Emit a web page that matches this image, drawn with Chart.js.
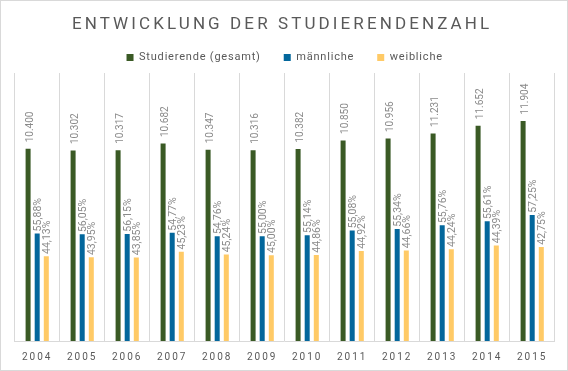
<!DOCTYPE html>
<html>
<head>
<meta charset="utf-8">
<script src="https://cdn.jsdelivr.net/npm/chart.js@4"></script>
<style>
html,body{margin:0;padding:0;background:#fff;}
canvas{display:block;}
</style>
</head>
<body>
<canvas id="c" width="568" height="371"></canvas>
<script>
// ---- data ----
const categories = ['2004','2005','2006','2007','2008','2009','2010','2011','2012','2013','2014','2015'];
const totalStudents = [10400,10302,10317,10682,10347,10316,10382,10850,10956,11231,11652,11904];
const maleStudents = [5812,5774,5793,5851,5666,5674,5725,5976,6063,6262,6480,6815];
const femaleStudents = [4590,4528,4524,4831,4681,4642,4657,4874,4893,4969,5172,5089];
const malePct = [55.88,56.05,56.15,54.77,54.76,55.00,55.14,55.08,55.34,55.76,55.61,57.25];
const femalePct = [44.13,43.95,43.85,45.23,45.24,45.00,44.86,44.92,44.66,44.24,44.39,42.75];
const seriesNames = ['Studierende (gesamt)','männliche','weibliche'];
const chartTitle = 'ENTWICKLUNG DER STUDIERENDENZAHL';
const yMax = 14500;

// ---- formatting ----
const fmtInt = v => String(v).replace(/\B(?=(\d{3})+(?!\d))/g, '.');
const fmtPct = v => v.toFixed(2).replace('.', ',') + '%';
const labelTexts = [totalStudents.map(fmtInt), malePct.map(fmtPct), femalePct.map(fmtPct)];

// ---- styles ----
const FONT = "Roboto, 'Liberation Sans', sans-serif";
const colors = ['#3a5a25', '#03679c', '#ffca66'];
const labelStyle = [
  {dx: 2.0, gap: 6.5, size: 10},
  {dx: 1.4, gap: 2.2, size: 10.5},
  {dx: 1.4, gap: 2.2, size: 10.5}
];

function wrapSpacing(obj, methods, spacing, dx) {
  methods.forEach(m => {
    const orig = obj[m].bind(obj);
    obj[m] = function(...args) {
      const ctx = obj.ctx;
      ctx.save();
      ctx.letterSpacing = spacing;
      if (dx && m === 'draw') ctx.translate(dx, 0);
      try { return orig(...args); } finally { ctx.restore(); }
    };
  });
}

const spacingPlugin = {
  id: 'spacing',
  beforeLayout(chart) {
    if (chart.$spacingDone) return;
    chart.$spacingDone = true;
    if (chart.titleBlock) wrapSpacing(chart.titleBlock, ['draw'], '3.1px', -2.6);
    if (chart.legend) wrapSpacing(chart.legend, ['fit','draw'], '0.8px', 0);
    if (chart.scales.x) wrapSpacing(chart.scales.x, ['drawLabels'], '2px', 0);
  },
  beforeDraw(chart) {
    const ctx = chart.ctx;
    ctx.save();
    ctx.fillStyle = '#ffffff';
    ctx.fillRect(0, 0, chart.width, chart.height);
    ctx.strokeStyle = '#d9d9d9';
    ctx.lineWidth = 1;
    ctx.strokeRect(0.5, 0.5, chart.width - 1, chart.height - 1);
    ctx.restore();
  }
};

const barLabelPlugin = {
  id: 'barLabels',
  afterDatasetsDraw(chart) {
    const ctx = chart.ctx;
    chart.data.datasets.forEach((ds, di) => {
      const meta = chart.getDatasetMeta(di);
      const st = labelStyle[di];
      meta.data.forEach((bar, i) => {
        ctx.save();
        ctx.font = st.size + 'px ' + FONT;
        ctx.fillStyle = '#8a8a8a';
        ctx.translate(bar.x + st.dx, bar.y - st.gap);
        ctx.rotate(-Math.PI / 2);
        ctx.textAlign = 'left';
        ctx.textBaseline = 'middle';
        ctx.fillText(labelTexts[di][i], 0, 0);
        ctx.restore();
      });
    });
  }
};

const seriesData = [totalStudents, maleStudents, femaleStudents];

new Chart(document.getElementById('c'), {
  type: 'bar',
  data: {
    labels: categories,
    datasets: seriesNames.map((name, i) => ({
      label: name,
      data: seriesData[i],
      backgroundColor: colors[i],
      borderWidth: 0,
      categoryPercentage: 0.607,
      barPercentage: 0.55
    }))
  },
  options: {
    responsive: false,
    animation: false,
    devicePixelRatio: 1,
    layout: {padding: {left: 14.7, right: 13.3, top: 0, bottom: 0}},
    plugins: {
      title: {
        display: true,
        text: chartTitle,
        color: '#595959',
        font: {family: FONT, size: 17, weight: 'normal', lineHeight: 1.2},
        padding: {top: 14.7, bottom: -6.1}
      },
      legend: {
        display: true,
        position: 'top',
        labels: {
          boxWidth: 7,
          boxHeight: 7,
          padding: 23,
          color: '#595959',
          font: {family: FONT, size: 11}
        }
      },
      tooltip: {enabled: false}
    },
    scales: {
      x: {
        grid: {display: true, color: '#d9d9d9', drawTicks: false, offset: true},
        border: {display: true, color: '#d9d9d9'},
        ticks: {color: '#595959', font: {family: FONT, size: 10}, padding: 10, maxRotation: 0, autoSkip: false},
        afterFit(s) { s.height = 30; }
      },
      y: {display: false, min: 0, max: yMax}
    }
  },
  plugins: [spacingPlugin, barLabelPlugin]
});
</script>
</body>
</html>
